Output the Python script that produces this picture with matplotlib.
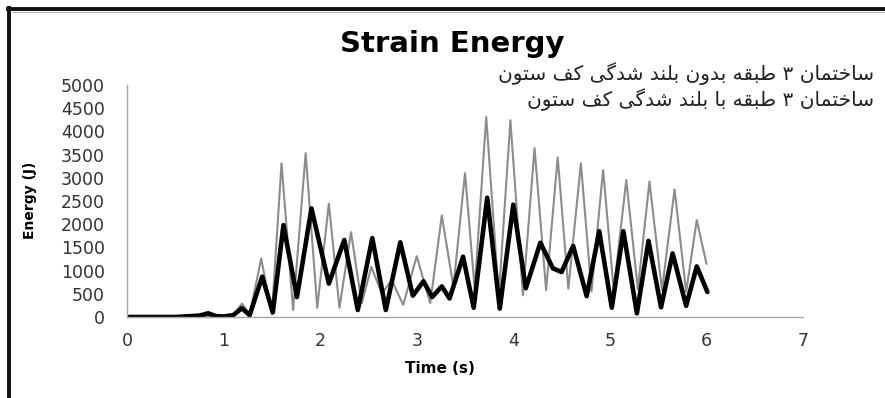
import matplotlib
matplotlib.use("Agg")
import matplotlib.pyplot as plt
from matplotlib.lines import Line2D

# time (s) and strain energy (J)
t_no_uplift = [0, 0.5, 0.8, 0.9, 1.0, 1.1, 1.19, 1.27, 1.39, 1.50, 1.60, 1.72,
               1.85, 1.97, 2.09, 2.20, 2.32, 2.43, 2.53, 2.64, 2.74, 2.86, 3.00,
               3.14, 3.26, 3.38, 3.50, 3.60, 3.72, 3.85, 3.97, 4.10, 4.22, 4.34,
               4.46, 4.57, 4.70, 4.81, 4.93, 5.04, 5.17, 5.29, 5.41, 5.54, 5.67,
               5.79, 5.90, 6.00]
e_no_uplift = [0, 0, 20, 10, 5, 30, 290, 60, 1260, 60, 3310, 150,
               3530, 200, 2440, 200, 1830, 290, 1080, 500, 800, 260, 1310,
               300, 2190, 650, 3100, 620, 4310, 450, 4240, 470, 3640, 580,
               3440, 610, 3310, 550, 3170, 580, 2950, 600, 2920, 580, 2750,
               540, 2090, 1150]

t_uplift = [0, 0.5, 0.75, 0.84, 0.92, 1.0, 1.1, 1.19, 1.27, 1.40, 1.51, 1.62,
            1.76, 1.91, 2.09, 2.25, 2.39, 2.54, 2.68, 2.83, 2.96, 3.07, 3.16,
            3.26, 3.34, 3.48, 3.59, 3.73, 3.86, 4.00, 4.13, 4.28, 4.41, 4.50,
            4.62, 4.76, 4.89, 5.02, 5.14, 5.28, 5.40, 5.53, 5.65, 5.79, 5.90,
            6.01]
e_uplift = [0, 0, 30, 80, 20, 10, 40, 190, 40, 870, 100, 1980,
            430, 2340, 720, 1660, 150, 1700, 150, 1610, 460, 770, 430,
            660, 400, 1300, 200, 2570, 180, 2420, 620, 1600, 1050, 970,
            1530, 450, 1850, 200, 1850, 80, 1640, 210, 1370, 240, 1090,
            540]

x_ticks = [0, 1, 2, 3, 4, 5, 6, 7]
y_ticks = list(range(0, 5001, 500))

label_no_uplift = "ساختمان \u06f3 طبقه بدون بلند شدگی کف ستون"
label_uplift = "ساختمان \u06f3 طبقه با بلند شدگی کف ستون"

# Arabic presentation forms: isolated, final, initial, medial
FORMS = {
    "\u0627": ("\uFE8D", "\uFE8E", None, None),
    "\u0628": ("\uFE8F", "\uFE90", "\uFE91", "\uFE92"),
    "\u062A": ("\uFE95", "\uFE96", "\uFE97", "\uFE98"),
    "\u062E": ("\uFEA5", "\uFEA6", "\uFEA7", "\uFEA8"),
    "\u062F": ("\uFEA9", "\uFEAA", None, None),
    "\u0633": ("\uFEB1", "\uFEB2", "\uFEB3", "\uFEB4"),
    "\u0634": ("\uFEB5", "\uFEB6", "\uFEB7", "\uFEB8"),
    "\u0637": ("\uFEC1", "\uFEC2", "\uFEC3", "\uFEC4"),
    "\u0641": ("\uFED1", "\uFED2", "\uFED3", "\uFED4"),
    "\u0642": ("\uFED5", "\uFED6", "\uFED7", "\uFED8"),
    "\u0644": ("\uFEDD", "\uFEDE", "\uFEDF", "\uFEE0"),
    "\u0645": ("\uFEE1", "\uFEE2", "\uFEE3", "\uFEE4"),
    "\u0646": ("\uFEE5", "\uFEE6", "\uFEE7", "\uFEE8"),
    "\u0647": ("\uFEE9", "\uFEEA", "\uFEEB", "\uFEEC"),
    "\u0648": ("\uFEED", "\uFEEE", None, None),
    "\u06A9": ("\uFB8E", "\uFB8F", "\uFB90", "\uFB91"),
    "\u06AF": ("\uFB92", "\uFB93", "\uFB94", "\uFB95"),
    "\u06CC": ("\uFBFC", "\uFBFD", "\uFBFE", "\uFBFF"),
}


def shape_rtl(text):
    """very small Persian shaper: pick joined forms, then reverse for LTR drawing"""
    text = text.replace("\u0643", "\u06A9").replace("\u064A", "\u06CC")
    out = []
    for i, ch in enumerate(text):
        if ch not in FORMS:
            out.append(ch)
            continue
        prev = text[i - 1] if i > 0 else None
        nxt = text[i + 1] if i + 1 < len(text) else None
        join_prev = prev in FORMS and FORMS[prev][2] is not None
        join_next = FORMS[ch][2] is not None and nxt in FORMS
        iso, fin, ini, med = FORMS[ch]
        if join_prev and join_next:
            out.append(med)
        elif join_prev:
            out.append(fin)
        elif join_next:
            out.append(ini)
        else:
            out.append(iso)
    return "".join(reversed(out))


plt.rcParams["font.family"] = ["DejaVu Sans"]

fig = plt.figure(figsize=(8.85, 3.98), dpi=100)
ax = fig.add_axes([127 / 885, 1 - 317 / 398, 676 / 885, 232 / 398])

ax.plot(t_no_uplift, e_no_uplift, color="#8c8c8c", linewidth=1.5,
        solid_joinstyle="round")
ax.plot(t_uplift, e_uplift, color="black", linewidth=3.3,
        solid_joinstyle="round", solid_capstyle="round")

ax.set_xlim(0, 7)
ax.set_ylim(0, 5000)
ax.set_xticks(x_ticks)
ax.set_yticks(y_ticks)
ax.tick_params(axis="both", length=0, labelsize=12.5, colors="#333333")
ax.tick_params(axis="y", pad=16)
ax.tick_params(axis="x", pad=11)
for side in ["top", "right"]:
    ax.spines[side].set_visible(False)
for side in ["left", "bottom"]:
    ax.spines[side].set_color("#a6a6a6")
    ax.spines[side].set_linewidth(1.0)

ax.set_xlabel("Time (s)", fontsize=11, fontweight="bold")
ax.xaxis.set_label_coords(313 / 676, -44 / 232)
ax.set_ylabel("Energy (J)", fontsize=10, fontweight="bold",
              family=["Liberation Sans Narrow", "DejaVu Sans"])
ax.yaxis.set_label_coords(-90 / 676, 117 / 232)

fig.text(452 / 885, 1 - 44 / 398, "Strain Energy", ha="center", va="center",
         fontsize=21, fontweight="bold")

# legend as two right aligned text lines
fig.text(874 / 885, 1 - 74 / 398, shape_rtl(label_no_uplift), ha="right",
         va="center", fontsize=14.5, color="#222222")
fig.text(874 / 885, 1 - 100 / 398, shape_rtl(label_uplift), ha="right",
         va="center", fontsize=14.5, color="#222222")

# outer frame (top and left edges only)
fig.add_artist(Line2D([8 / 885, 1], [1 - 9 / 398, 1 - 9 / 398],
                      color="#111111", linewidth=2.8, transform=fig.transFigure))
fig.add_artist(Line2D([9 / 885, 9 / 885], [0, 1 - 8 / 398],
                      color="#111111", linewidth=2.8, transform=fig.transFigure))
fig.add_artist(Line2D([12 / 885, 1], [1 - 12 / 398, 1 - 12 / 398],
                      color="#bbbbbb", linewidth=0.8, transform=fig.transFigure))

fig.savefig("out.png", dpi=100)
